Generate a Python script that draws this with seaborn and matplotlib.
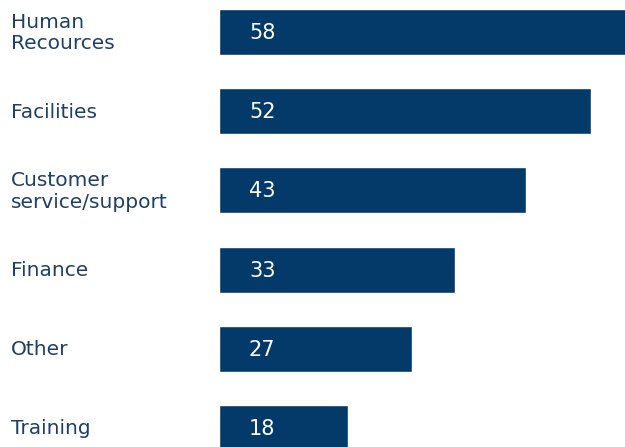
import matplotlib
matplotlib.use("Agg")
import matplotlib.pyplot as plt
import matplotlib.transforms as mtransforms
import seaborn as sns
import pandas as pd

categories = ["Human\nRecources", "Facilities", "Customer\nservice/support", "Finance", "Other", "Training"]
values = [58, 52, 43, 33, 27, 18]
value_labels = ["58", "52", "43", "33", "27", "18"]

BAR_COLOR = "#033A69"
TEXT_COLOR = "#1E3F66"

sns.set_theme(style="white")
plt.rcParams["font.family"] = ["DejaVu Sans"]

df = pd.DataFrame({"category": categories, "value": values})

W, H = 625, 447
fig = plt.figure(figsize=(W / 100, H / 100), dpi=100)
ax = fig.add_axes([219 / W, 0, (W - 219) / W, 1])

sns.barplot(data=df, x="value", y="category", orient="h", color=BAR_COLOR,
            saturation=1, width=0.58, ax=ax)

ax.set_xlim(0, (W - 219) / 7.15)
ax.set_ylim(5.24, -0.404)
ax.set_axis_off()

trans = mtransforms.offset_copy(
    mtransforms.blended_transform_factory(fig.transFigure, ax.transData),
    fig=fig, x=0, y=-1, units="dots")
for i, lab in enumerate(categories):
    fig.text(11 / W, i, lab, transform=trans, ha="left", va="center",
             fontsize=14.5, color=TEXT_COLOR, linespacing=1.15)

vtrans = mtransforms.offset_copy(ax.transData, fig=fig, x=30, y=-1, units="dots")
for i, v in enumerate(value_labels):
    ax.text(0, i, v, transform=vtrans, ha="left", va="center",
            fontsize=15, color="white")

fig.savefig("out.png", dpi=100)
